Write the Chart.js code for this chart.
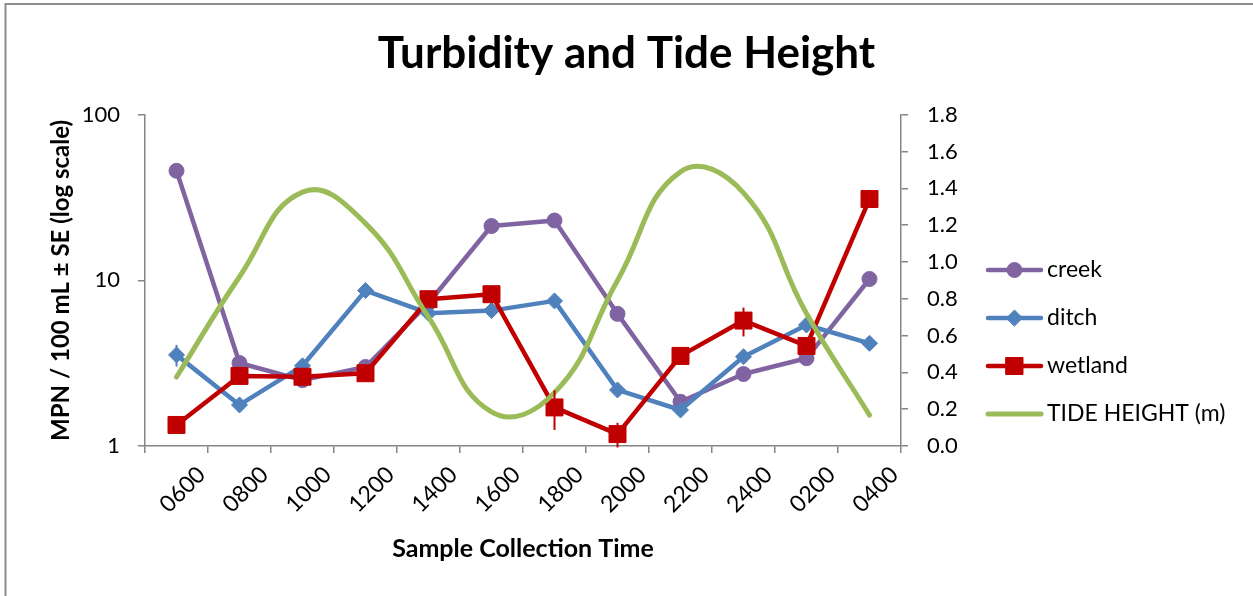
<!DOCTYPE html>
<html>
<head>
<meta charset="utf-8">
<title>Turbidity and Tide Height</title>
<script src="https://cdn.jsdelivr.net/npm/chart.js@4.4.0/dist/chart.umd.min.js"></script>
<style>
  html, body { margin: 0; padding: 0; background: #fff; }
  #wrap { position: relative; width: 1253px; height: 596px; }
</style>
</head>
<body>
<div id="wrap"><canvas id="chart" width="1253" height="596"></canvas></div>
<script>
// sample times along the x axis
const times = ["0600", "0800", "1000", "1200", "1400", "1600", "1800", "2000", "2200", "2400", "0200", "0400"];

// MPN / 100 mL
const creek   = [45.9, 3.17, 2.5, 3.0, 7.3, 21.3, 23.0, 6.28, 1.85, 2.72, 3.39, 10.2];
const ditch   = [3.55, 1.77, 3.05, 8.68, 6.34, 6.57, 7.52, 2.18, 1.65, 3.46, 5.38, 4.17];
const wetland = [1.34, 2.65, 2.62, 2.75, 7.7, 8.25, 1.71, 1.18, 3.5, 5.72, 4.02, 31.0];

// standard errors, only where the bar shows past the marker
const ditchSE   = [0.53, null, null, null, null, null, null, null, null, null, null, null];
const wetlandSE = [null, null, null, null, null, null, 0.46, 0.2, null, 1.13, null, null];

// tide height (m), right axis
const tideHeight = [0.375, 0.92, 1.38, 1.21, 0.70, 0.185, 0.29, 0.90, 1.49, 1.376, 0.72, 0.168];

// axis tick labels
const turbidityTicks = [1, 10, 100];
const tideTicks = [0, 0.2, 0.4, 0.6, 0.8, 1.0, 1.2, 1.4, 1.6, 1.8];

const purple = "#8064A2";
const blue = "#4F81BD";
const red = "#C00000";
const green = "#9BBB59";
const axisGrey = "#868686";

Chart.defaults.font.family = "Lato, 'Open Sans', sans-serif";
Chart.defaults.color = "#000";

// vertical SE bars, no caps
const seBars = {
  id: "seBars",
  afterDatasetsDraw(chart) {
    const ctx = chart.ctx;
    chart.data.datasets.forEach((ds, i) => {
      if (!ds.se) return;
      const meta = chart.getDatasetMeta(i);
      const yScale = chart.scales[ds.yAxisID];
      ctx.save();
      ctx.strokeStyle = ds.borderColor;
      ctx.lineWidth = 2;
      ds.se.forEach((e, j) => {
        if (e == null) return;
        const x = meta.data[j].x;
        const v = ds.data[j];
        ctx.beginPath();
        ctx.moveTo(x, yScale.getPixelForValue(v - e));
        ctx.lineTo(x, yScale.getPixelForValue(v + e));
        ctx.stroke();
      });
      ctx.restore();
    });
  }
};

// legend to the right: line sample with marker, like the spreadsheet one
const sideLegend = {
  id: "sideLegend",
  afterDraw(chart) {
    const ctx = chart.ctx;
    ctx.save();
    chart.data.datasets.forEach((ds, i) => {
      const y = 270 + i * 48;
      ctx.strokeStyle = ds.borderColor;
      ctx.lineWidth = ds.borderWidth;
      ctx.lineCap = "round";
      ctx.beginPath();
      ctx.moveTo(988, y);
      ctx.lineTo(1041, y);
      ctx.stroke();
      if (ds.pointRadius) {
        ctx.fillStyle = ds.pointBackgroundColor;
        ctx.strokeStyle = ds.borderColor;
        ctx.lineWidth = 1;
        Chart.helpers.drawPoint(ctx, { pointStyle: ds.pointStyle, radius: ds.pointRadius, borderWidth: 1, rotation: 0 }, 1014.5, y);
      }
      ctx.fillStyle = "#000";
      ctx.font = "23px Lato";
      ctx.textBaseline = "middle";
      ctx.textAlign = "left";
      ctx.fillText(ds.label, 1047, y);
    });
    ctx.restore();
  }
};

// chart area border (left and top edges show in the picture)
const frame = {
  id: "frame",
  beforeDraw(chart) {
    const ctx = chart.ctx;
    ctx.save();
    ctx.strokeStyle = "#8c8c8c";
    ctx.lineWidth = 2;
    ctx.beginPath();
    ctx.moveTo(5.5, chart.height);
    ctx.lineTo(5.5, 4);
    ctx.lineTo(chart.width, 4);
    ctx.stroke();
    ctx.restore();
  }
};

const lineStyle = {
  borderWidth: 4.5,
  pointBorderWidth: 1,
  borderJoinStyle: "round",
  borderCapStyle: "round",
  tension: 0
};

new Chart(document.getElementById("chart"), {
  type: "line",
  data: {
    labels: times,
    datasets: [
      { ...lineStyle, label: "creek", data: creek, yAxisID: "y", borderColor: purple, backgroundColor: purple,
        pointBackgroundColor: purple, pointStyle: "circle", pointRadius: 7.5, order: 4 },
      { ...lineStyle, label: "ditch", data: ditch, se: ditchSE, yAxisID: "y", borderColor: blue, backgroundColor: blue,
        pointBackgroundColor: blue, pointStyle: "rectRot", pointRadius: 8, order: 3 },
      { ...lineStyle, label: "wetland", data: wetland, se: wetlandSE, yAxisID: "y", borderColor: red, backgroundColor: red,
        pointBackgroundColor: red, pointStyle: "rect", pointRadius: 12, order: 2 },
      { label: "TIDE HEIGHT (m)", data: tideHeight, yAxisID: "y1", borderColor: green, backgroundColor: green,
        borderWidth: 5, pointRadius: 0, tension: 0.45, borderCapStyle: "round", order: 1 }
    ]
  },
  options: {
    responsive: false,
    animation: false,
    events: [],
    layout: { padding: 0 },
    plugins: {
      legend: { display: false },
      tooltip: { enabled: false },
      title: {
        display: true,
        text: "Turbidity and Tide Height",
        color: "#000",
        font: { size: 44, weight: "bold" },
        padding: { top: 27, bottom: 35 }
      }
    },
    scales: {
      x: {
        offset: true,
        grid: { offset: true, drawOnChartArea: false, color: axisGrey, tickLength: 7, lineWidth: 1.5 },
        border: { color: axisGrey, width: 1.5 },
        ticks: { color: "#000", font: { size: 23 }, minRotation: 45, maxRotation: 45, autoSkip: false, padding: 8, labelOffset: 25 },
        title: {
          display: true,
          text: "Sample Collection Time",
          color: "#000",
          font: { size: 25, weight: "bold" },
          padding: { top: 0, bottom: 32 }
        },
        afterFit(scale) { scale.height = 150; }
      },
      y: {
        type: "logarithmic",
        position: "left",
        min: 1,
        max: 100,
        grid: { drawOnChartArea: false, color: axisGrey, tickLength: 7, lineWidth: 1.5 },
        border: { color: axisGrey, width: 1.5 },
        afterBuildTicks(scale) { scale.ticks = turbidityTicks.map(v => ({ value: v })); },
        ticks: { color: "#000", font: { size: 22 }, padding: 18, callback: v => String(v) },
        title: {
          display: true,
          text: "MPN / 100 mL ± SE (log scale)",
          color: "#000",
          font: { size: 24, weight: "bold" },
          padding: { top: 47, bottom: 0 }
        },
        afterFit(scale) { scale.width = 145; }
      },
      y1: {
        position: "right",
        min: 0,
        max: 1.8,
        grid: { drawOnChartArea: false, color: axisGrey, tickLength: 7, lineWidth: 1.5 },
        border: { color: axisGrey, width: 1.5 },
        afterBuildTicks(scale) { scale.ticks = tideTicks.map(v => ({ value: v })); },
        ticks: { color: "#000", font: { size: 22 }, padding: 19, callback: v => v.toFixed(1) },
        afterFit(scale) { scale.width = 352; }
      }
    }
  },
  plugins: [frame, seBars, sideLegend]
});
</script>
</body>
</html>
